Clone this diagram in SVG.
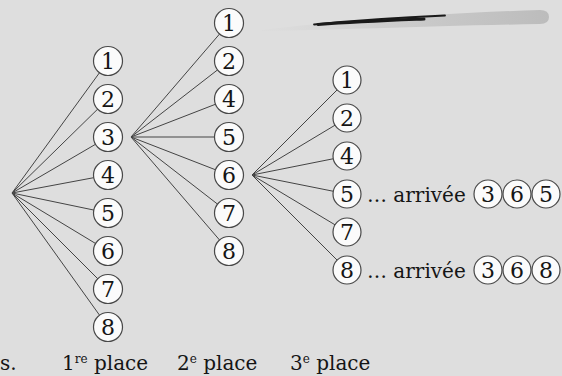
<svg xmlns="http://www.w3.org/2000/svg" width="562" height="376" viewBox="0 0 562 376">
<defs>
<style>
.bg{fill:#dedede}
.n circle{fill:#fbfbfb;stroke:#484848;stroke-width:1.2}
.n text{font-family:"DejaVu Serif","Liberation Serif",serif;font-size:22px;fill:#151515;text-anchor:middle}
.lbl{font-family:"DejaVu Serif","Liberation Serif",serif;font-size:20px;fill:#151515}
.sup{font-size:12px}
#edges line{stroke:#444;stroke-width:1}
</style>
<linearGradient id="brush" x1="0" y1="0" x2="1" y2="0">
<stop offset="0" stop-color="#d8d8d8" stop-opacity="0.2"/>
<stop offset="0.4" stop-color="#cecece"/>
<stop offset="1" stop-color="#bcbcbc"/>
</linearGradient>
</defs>
<rect class="bg" x="0" y="0" width="562" height="376"/>
<!-- brush stroke -->
<path d="M262,30 C330,22 420,14 540,10 Q549,10 549,17 Q549,24 540,24 C430,26 340,30 262,31 Z" fill="url(#brush)"/>
<path d="M314,24.5 C360,20 410,17 445,15.5" fill="none" stroke="#1a1a1a" stroke-width="1.8" stroke-linecap="round"/>
<path d="M318,24.5 C360,21.5 400,20 424,19" fill="none" stroke="#1a1a1a" stroke-width="3" stroke-linecap="round"/>

<g id="edges">
<line x1="12" y1="193" x2="108" y2="61"/>
<line x1="12" y1="193" x2="108" y2="99"/>
<line x1="12" y1="193" x2="108" y2="137"/>
<line x1="12" y1="193" x2="108" y2="175"/>
<line x1="12" y1="193" x2="108" y2="213"/>
<line x1="12" y1="193" x2="108" y2="251"/>
<line x1="12" y1="193" x2="108" y2="289"/>
<line x1="12" y1="193" x2="108" y2="327"/>
<line x1="131" y1="137" x2="229" y2="23"/>
<line x1="131" y1="137" x2="229" y2="61"/>
<line x1="131" y1="137" x2="229" y2="99"/>
<line x1="131" y1="137" x2="229" y2="137"/>
<line x1="131" y1="137" x2="229" y2="175"/>
<line x1="131" y1="137" x2="229" y2="213"/>
<line x1="131" y1="137" x2="229" y2="251"/>
<line x1="252" y1="175" x2="347" y2="80"/>
<line x1="252" y1="175" x2="347" y2="118"/>
<line x1="252" y1="175" x2="347" y2="156"/>
<line x1="252" y1="175" x2="347" y2="194"/>
<line x1="252" y1="175" x2="347" y2="232"/>
<line x1="252" y1="175" x2="347" y2="270"/>
</g>

<!-- column 1 : 1re place -->
<g id="a1" class="n"><circle cx="108" cy="61" r="14.5"/><text x="108" y="69">1</text></g>
<g id="a2" class="n"><circle cx="108" cy="99" r="14.5"/><text x="108" y="107">2</text></g>
<g id="a3" class="n"><circle cx="108" cy="137" r="14.5"/><text x="108" y="145">3</text></g>
<g id="a4" class="n"><circle cx="108" cy="175" r="14.5"/><text x="108" y="183">4</text></g>
<g id="a5" class="n"><circle cx="108" cy="213" r="14.5"/><text x="108" y="221">5</text></g>
<g id="a6" class="n"><circle cx="108" cy="251" r="14.5"/><text x="108" y="259">6</text></g>
<g id="a7" class="n"><circle cx="108" cy="289" r="14.5"/><text x="108" y="297">7</text></g>
<g id="a8" class="n"><circle cx="108" cy="327" r="14.5"/><text x="108" y="335">8</text></g>

<!-- column 2 : 2e place -->
<g id="b1" class="n"><circle cx="229" cy="23" r="14.5"/><text x="229" y="31">1</text></g>
<g id="b2" class="n"><circle cx="229" cy="61" r="14.5"/><text x="229" y="69">2</text></g>
<g id="b4" class="n"><circle cx="229" cy="99" r="14.5"/><text x="229" y="107">4</text></g>
<g id="b5" class="n"><circle cx="229" cy="137" r="14.5"/><text x="229" y="145">5</text></g>
<g id="b6" class="n"><circle cx="229" cy="175" r="14.5"/><text x="229" y="183">6</text></g>
<g id="b7" class="n"><circle cx="229" cy="213" r="14.5"/><text x="229" y="221">7</text></g>
<g id="b8" class="n"><circle cx="229" cy="251" r="14.5"/><text x="229" y="259">8</text></g>

<!-- column 3 : 3e place -->
<g id="c1" class="n"><circle cx="347" cy="80" r="14"/><text x="347" y="88">1</text></g>
<g id="c2" class="n"><circle cx="347" cy="118" r="14"/><text x="347" y="126">2</text></g>
<g id="c4" class="n"><circle cx="347" cy="156" r="14"/><text x="347" y="164">4</text></g>
<g id="c5" class="n"><circle cx="347" cy="194" r="14"/><text x="347" y="202">5</text></g>
<g id="c7" class="n"><circle cx="347" cy="232" r="14"/><text x="347" y="240">7</text></g>
<g id="c8" class="n"><circle cx="347" cy="270" r="14"/><text x="347" y="278">8</text></g>

<!-- results -->
<g id="r1">
<text class="lbl" x="367" y="202">… arrivée</text>
<g class="n"><circle cx="488" cy="194" r="14"/><text x="488" y="202">3</text></g>
<g class="n"><circle cx="517" cy="194" r="14"/><text x="517" y="202">6</text></g>
<g class="n"><circle cx="546" cy="194" r="14"/><text x="546" y="202">5</text></g>
</g>
<g id="r2">
<text class="lbl" x="367" y="278">… arrivée</text>
<g class="n"><circle cx="488" cy="270" r="14"/><text x="488" y="278">3</text></g>
<g class="n"><circle cx="517" cy="270" r="14"/><text x="517" y="278">6</text></g>
<g class="n"><circle cx="546" cy="270" r="14"/><text x="546" y="278">8</text></g>
</g>

<!-- bottom labels -->
<g id="labels">
<text class="lbl" x="0" y="370">s.</text>
<text class="lbl" x="62" y="370">1<tspan class="sup" dy="-7">re</tspan><tspan dy="7"> place</tspan></text>
<text class="lbl" x="177" y="370">2<tspan class="sup" dy="-7">e</tspan><tspan dy="7"> place</tspan></text>
<text class="lbl" x="290" y="370">3<tspan class="sup" dy="-7">e</tspan><tspan dy="7"> place</tspan></text>
</g>
</svg>
